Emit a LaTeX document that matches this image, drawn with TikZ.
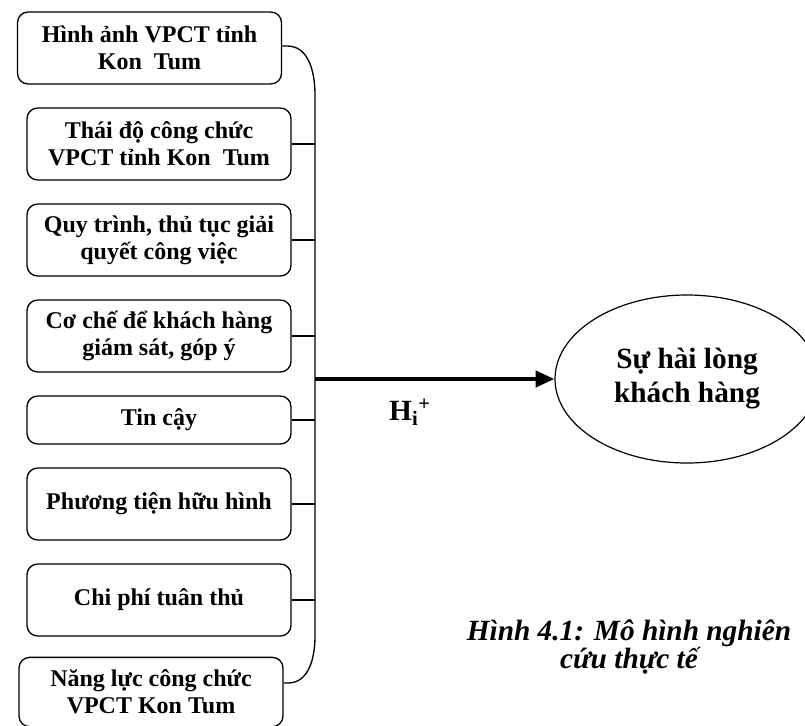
\documentclass[tikz,border=0pt]{standalone}
\usepackage{fontspec}
\setmainfont{Liberation Serif}
\usetikzlibrary{positioning,shapes.geometric,arrows.meta}

\begin{document}
\begin{tikzpicture}[x=0.75pt,y=-0.75pt,
    factor/.style={draw, line width=1pt, rounded corners=8pt, minimum width=198pt, minimum height=54pt,
        inner sep=0pt, align=center, font=\fontsize{18}{20.5}\selectfont\bfseries},
    goal/.style={draw, ellipse, line width=0.9pt, minimum width=198pt, minimum height=126pt,
        align=center, font=\fontsize{22}{25.5}\selectfont\bfseries},
    link/.style={line width=1pt}]
\useasboundingbox (0,0) rectangle (805,725);

\node[factor] at (149.5,48) (img) {Hình ảnh VPCT tỉnh\\Kon\ \ Tum};
\node[factor] at (159,144) (att) {Thái độ công chức\\VPCT tỉnh Kon\ \ Tum};
\node[factor] at (159,240) (proc) {Quy trình, thủ tục giải\\quyết công việc};
\node[factor] at (159,336) (mech) {Cơ chế để khách hàng\\giám sát, góp ý};
\node[factor, minimum height=36pt] at (159,420) (trust) {Tin cậy};
\node[factor] at (159,504) (tang) {Phương tiện hữu hình};
\node[factor] at (159,600) (cost) {Chi phí tuân thủ};
\node[factor, minimum height=52pt] at (151,692) (comp) {Năng lực công chức\\VPCT Kon Tum};

\node[goal] at (687,379) (sat) {Sự hài lòng\\khách hàng};

\coordinate (spine) at (315,379);
\coordinate (top) at (315,95);
\coordinate (bot) at (315,636);

% bracket joining the factors
\draw[link] (img.east |- 0,46) -- ++(5,0) to[out=0,in=90] (top) -- (bot) to[out=-90,in=0] (288,683) -- (comp.east |- 0,683);
\foreach \f in {att,proc,mech,trust,tang,cost}
    \draw[link] (\f.east) -- (\f.east -| spine);

\draw[line width=3pt, -{Triangle[length=14pt,width=12pt]}] (spine) -- (sat.west);

\node[font=\fontsize{22}{26}\selectfont\bfseries] at (410,412) (hyp) {H\textsubscript{i}\textsuperscript{+}};

\node[align=center, font=\fontsize{22}{19}\selectfont\bfseries\itshape] at (629,647) (cap) {Hình 4.1: Mô hình nghiên\\cứu thực tế};
\end{tikzpicture}
\end{document}
